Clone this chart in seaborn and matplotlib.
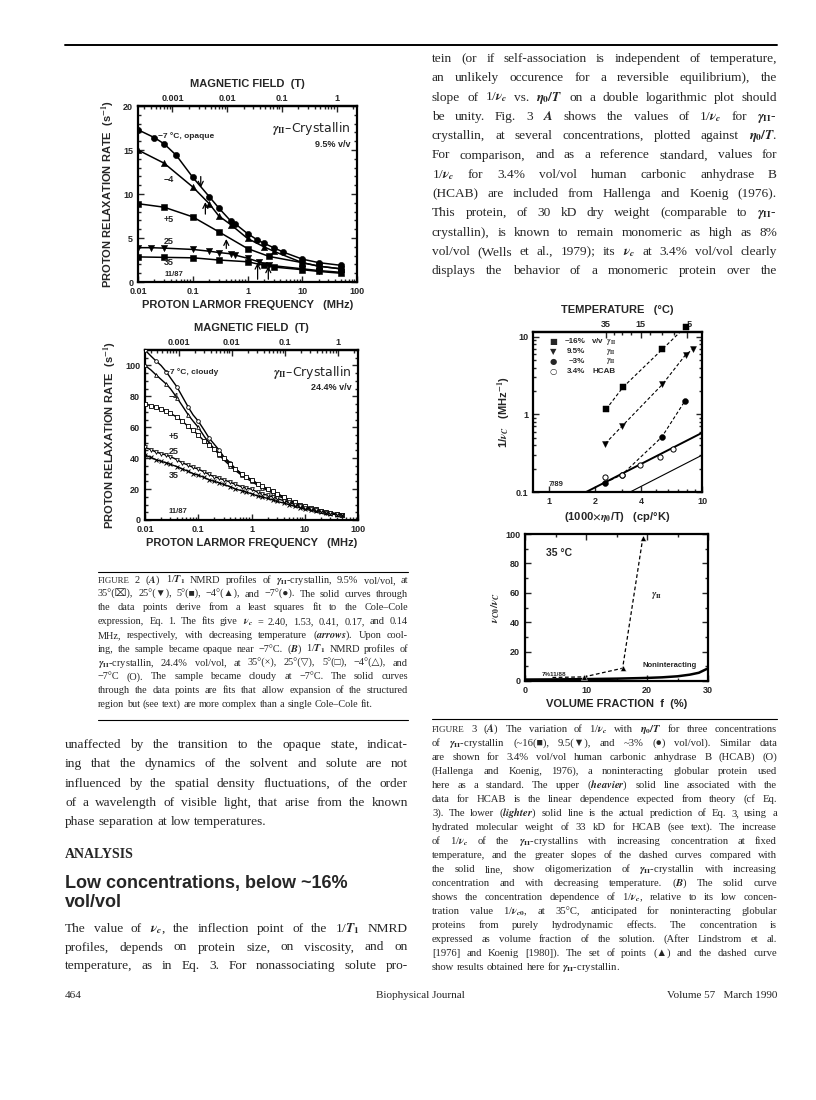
import numpy as np
import matplotlib
matplotlib.use("Agg")
import matplotlib.pyplot as plt
import matplotlib.ticker as mticker
import seaborn as sns

W, H = 816, 1100

# ---------------- data: Fig 2A (9.5% v/v), MHz vs s^-1 ----------------
a_m7_f = [0.01, 0.02, 0.03, 0.05, 0.1, 0.2, 0.3, 0.5, 0.6, 1.0, 1.5, 2.0, 3.0, 4.5, 10, 20, 50]
a_m7_r = [17.3, 16.4, 15.7, 14.4, 11.9, 9.7, 8.4, 6.9, 6.6, 5.5, 4.8, 4.4, 3.9, 3.4, 2.6, 2.2, 1.9]
a_m4_f = [0.01, 0.03, 0.1, 0.2, 0.3, 0.5, 1.0, 2.0, 3.0, 10, 20, 50]
a_m4_r = [15.0, 13.5, 10.8, 8.9, 7.5, 6.5, 4.95, 4.0, 3.5, 2.2, 1.8, 1.5]
a_p5_f = [0.01, 0.03, 0.1, 0.3, 1.0, 2.5, 10, 20, 50]
a_p5_r = [8.9, 8.5, 7.4, 5.7, 3.8, 2.9, 2.2, 1.8, 1.5]
a_25_f = [0.01, 0.017, 0.03, 0.1, 0.2, 0.3, 0.5, 0.6, 1.0, 1.6, 2.5, 10, 20, 50]
a_25_r = [3.9, 3.9, 3.85, 3.7, 3.5, 3.35, 3.2, 3.05, 2.7, 2.3, 1.9, 1.5, 1.3, 1.1]
a_35_f = [0.01, 0.03, 0.1, 0.3, 1.0, 2.0, 3.0, 10, 20, 50]
a_35_r = [2.85, 2.8, 2.75, 2.5, 2.3, 1.9, 1.7, 1.4, 1.2, 1.0]
# inflection points (nu_c, MHz) with arrow tail / head heights
arrow_f = [0.14, 0.17, 0.41, 1.53, 2.40]
arrow_tail = [12.3, 7.4, 3.5, 0.0, 0.0]
arrow_head = [10.4, 9.4, 5.2, 2.5, 2.1]

# ---------------- data: Fig 2B (24.4% v/v) ----------------
b_f = [0.01, 0.013, 0.016, 0.02, 0.025, 0.03, 0.04, 0.05, 0.065, 0.08, 0.1, 0.13, 0.16,
       0.2, 0.25, 0.3, 0.4, 0.5, 0.65, 0.8, 1.0, 1.3, 1.6, 2.0, 2.5, 3.0, 4.0, 5.0,
       6.5, 8.0, 10, 13, 16, 20, 25, 30, 40, 50]
b_m7 = [110, 106, 103, 100, 96, 92, 86, 80, 73, 68, 64, 58, 53, 49, 45, 41, 37, 33, 30, 28,
        26, 23.5, 21.5, 20, 18.5, 17, 15, 13, 11.5, 10, 9, 7.8, 7, 6, 5.3, 4.8, 4, 3.5]
b_m4 = [100, 97, 94, 91, 88, 85, 79, 74, 68, 64, 60, 54, 50, 46, 42, 39, 35, 32, 29, 27,
        25, 22.5, 21, 19, 17.5, 16, 14, 12.5, 11, 9.6, 8.5, 7.3, 6.4, 5.5, 4.9, 4.4, 3.8, 3.3]
b_p5 = [75, 74, 73, 72, 70.5, 69, 66.5, 64, 60.5, 58, 55, 51, 48.5, 46, 43, 40, 36, 33, 30, 28,
        26, 23.5, 22, 20, 18.5, 17, 15, 13, 11.5, 10, 9, 7.8, 7, 6, 5.2, 4.7, 4, 3.5]
b_25 = [47, 45.5, 44, 43, 42, 41, 39, 37, 35.5, 34, 33, 31, 29.5, 28, 27, 26, 24.5, 23, 21.5, 20.5,
        20, 18, 17, 16, 15, 14, 12.5, 11.5, 10, 9, 8, 7, 6.3, 5.5, 4.8, 4.3, 3.7, 3.2]
b_35 = [42, 40.5, 39, 38, 37, 36, 34.5, 33, 31.5, 30, 29, 27.5, 26, 25, 24, 23, 21.5, 20, 19, 18,
        17, 15.5, 14.8, 14, 13, 12, 11, 10, 8.8, 8, 7, 6.3, 5.6, 5, 4.4, 4, 3.4, 3]

# ---------------- data: Fig 3A ----------------
g16_x = [2.35, 3.03, 5.5, 7.82]
g16_y = [1.16, 2.23, 6.9, 13.5]
g95_x = [2.32, 3.0, 5.5, 7.8, 8.77]
g95_y = [0.42, 0.71, 2.43, 5.84, 6.98]
g3_x = [2.32, 3.0, 5.45, 7.75]
g3_y = [0.132, 0.168, 0.51, 1.5]
hcab_x = [2.32, 3.0, 3.94, 5.27, 6.44]
hcab_y = [0.156, 0.168, 0.221, 0.283, 0.353]
theory_x = [1.74, 10.0]
theory_hi = [0.1, 0.578]
theory_x_lo = [3.38, 10.0]
theory_lo = [0.1, 0.298]
temp_major_x = [2.34, 3.96, 8.0]
temp_major_lab = ["35", "15", "−5"]
temp_minor_x = [2.63, 2.98, 3.4, 4.56, 5.43, 6.54]

# ---------------- data: Fig 3B ----------------
tri_f = [9.7, 16.0, 19.3]
tri_v = [2.8, 8.7, 97.0]
dash_f = [4.5, 9.7, 16.0, 19.3]
dash_v = [2.4, 2.8, 8.7, 97.0]
nonint_f = [0, 5, 10, 15, 20, 22.5, 25, 27, 28.5, 30]
nonint_v = [1.0, 1.1, 1.3, 1.6, 2.1, 2.5, 3.2, 4.3, 5.6, 8.6]

# ---------------- text ----------------
GII = r"$\gamma_{\mathrm{II}}$"
right_top = [
    "tein (or if self-association is independent of temperature,",
    "an unlikely occurence for a reversible equilibrium), the",
    r"slope of 1/$\nu_c$ vs. $\eta_0/T$ on a double logarithmic plot should",
    r"be unity. Fig. 3 $A$ shows the values of 1/$\nu_c$ for " + GII + "-",
    r"crystallin, at several concentrations, plotted against $\eta_0/T$.",
    "For comparison, and as a reference standard, values for",
    r"1/$\nu_c$ for 3.4% vol/vol human carbonic anhydrase B",
    "(HCAB) are included from Hallenga and Koenig (1976).",
    "This protein, of 30 kD dry weight (comparable to " + GII + "-",
    "crystallin), is known to remain monomeric as high as 8%",
    r"vol/vol (Wells et al., 1979); its $\nu_c$ at 3.4% vol/vol clearly",
    "displays the behavior of a monomeric protein over the",
]
left_body = [
    "unaffected by the transition to the opaque state, indicat-",
    "ing that the dynamics of the solvent and solute are not",
    "influenced by the spatial density fluctuations, of the order",
    "of a wavelength of visible light, that arise from the known",
    "phase separation at low temperatures.",
]
left_para = [
    r"The value of $\nu_c$, the inflection point of the 1/$T_1$ NMRD",
    "profiles, depends on protein size, on viscosity, and on",
    "temperature, as in Eq. 3. For nonassociating solute pro-",
]
cap2 = [
    r"FIGURE 2 ($A$) 1/$T_1$ NMRD profiles of " + GII + "-crystallin, 9.5% vol/vol, at",
    "35°(⌧), 25°(▼), 5°(■), −4°(▲), and −7°(●). The solid curves through",
    "the data points derive from a least squares fit to the Cole–Cole",
    r"expression, Eq. 1. The fits give $\nu_c$ = 2.40, 1.53, 0.41, 0.17, and 0.14",
    r"MHz, respectively, with decreasing temperature ($\mathit{arrows}$). Upon cool-",
    r"ing, the sample became opaque near −7°C. ($B$) 1/$T_1$ NMRD profiles of",
    GII + "-crystallin, 24.4% vol/vol, at 35°(×), 25°(▽), 5°(□), −4°(△), and",
    "−7°C (O). The sample became cloudy at −7°C. The solid curves",
    "through the data points are fits that allow expansion of the structured",
    "region but (see text) are more complex than a single Cole–Cole fit.",
]
cap3 = [
    r"FIGURE 3 ($A$) The variation of 1/$\nu_c$ with $\eta_0/T$ for three concentrations",
    "of " + GII + "-crystallin (~16(■), 9.5(▼), and ~3% (●) vol/vol). Similar data",
    "are shown for 3.4% vol/vol human carbonic anhydrase B (HCAB) (O)",
    "(Hallenga and Koenig, 1976), a noninteracting globular protein used",
    r"here as a standard. The upper ($\mathit{heavier}$) solid line associated with the",
    "data for HCAB is the linear dependence expected from theory (cf Eq.",
    r"3). The lower ($\mathit{lighter}$) solid line is the actual prediction of Eq. 3, using a",
    "hydrated molecular weight of 33 kD for HCAB (see text). The increase",
    r"of 1/$\nu_c$ of the " + GII + "-crystallins with increasing concentration at fixed",
    "temperature, and the greater slopes of the dashed curves compared with",
    "the solid line, show oligomerization of " + GII + "-crystallin with increasing",
    r"concentration and with decreasing temperature. ($B$) The solid curve",
    r"shows the concentration dependence of 1/$\nu_c$, relative to its low concen-",
    r"tration value 1/$\nu_{c0}$, at 35°C, anticipated for noninteracting globular",
    "proteins from purely hydrodynamic effects. The concentration is",
    "expressed as volume fraction of the solution. (After Lindstrom et al.",
    "[1976] and Koenig [1980]). The set of points (▲) and the dashed curve",
    "show results obtained here for " + GII + "-crystallin.",
]

# ---------------- style ----------------
sns.set_theme(style="ticks")
plt.rcParams.update({
    "font.family": ["Liberation Sans", "DejaVu Sans"],
    "font.weight": "bold",
    "mathtext.fontset": "stix",
    "axes.linewidth": 1.6,
    "axes.edgecolor": "black",
    "xtick.direction": "in",
    "ytick.direction": "in",
    "xtick.major.size": 4,
    "ytick.major.size": 4,
    "xtick.minor.size": 2.2,
    "ytick.minor.size": 2.2,
    "xtick.major.width": 1.0,
    "ytick.major.width": 1.0,
    "xtick.labelsize": 6.5,
    "ytick.labelsize": 6.5,
    "axes.labelsize": 8,
    "axes.labelweight": "bold",
})
SERIF = ["Liberation Serif", "DejaVu Sans"]

fig = plt.figure(figsize=(W / 100, H / 100), dpi=100)
fig.patch.set_facecolor("white")


def box(x0, y0, x1, y1):
    return fig.add_axes([x0 / W, 1 - y1 / H, (x1 - x0) / W, (y1 - y0) / H])


def put(x, y, s, **kw):
    return fig.text(x / W, 1 - y / H, s, **kw)


def rule(x0, x1, y, lw=0.8):
    fig.add_artist(plt.Line2D([x0 / W, x1 / W], [1 - y / H, 1 - y / H], color="black", lw=lw))


renderer = fig.canvas.get_renderer()


def block(lines, x0, x1, y0, pitch, size, ragged_last=True):
    # justified column text, one word at a time
    t1 = put(0, 0, "aa", size=size, family=SERIF, weight="normal")
    t2 = put(0, 0, "a a", size=size, family=SERIF, weight="normal")
    sp = t2.get_window_extent(renderer).width - t1.get_window_extent(renderer).width
    t1.remove()
    t2.remove()
    for i, line in enumerate(lines):
        y = y0 + i * pitch
        words = line.split(" ")
        ts = []
        for w in words:
            sz = size * 0.86 if w.startswith("FIGURE") else size
            ts.append(put(x0, y, w, size=sz, family=SERIF, weight="normal", va="baseline"))
        ws = [t.get_window_extent(renderer).width for t in ts]
        if (ragged_last and i == len(lines) - 1) or len(words) == 1:
            gap = sp
        else:
            gap = (x1 - x0 - sum(ws)) / (len(words) - 1)
        x = x0
        for t, w in zip(ts, ws):
            t.set_x(x / W)
            x += w + gap


def frame(ax):
    for s in ax.spines.values():
        s.set_visible(True)
        s.set_linewidth(1.6)
    ax.tick_params(which="both", top=False, right=True, direction="in", labelsize=6.5)
    for lab in ax.get_xticklabels() + ax.get_yticklabels():
        lab.set_fontweight("bold")


MHZ_PER_T = 42.58


def field_axis(ax):
    sec = ax.secondary_xaxis("top", functions=(lambda f: f / MHZ_PER_T, lambda b: b * MHZ_PER_T))
    sec.set_xticks([0.001, 0.01, 0.1, 1])
    sec.set_xticklabels(["0.001", "0.01", "0.1", "1"], fontsize=6.5, fontweight="bold")
    sec.xaxis.set_minor_locator(mticker.LogLocator(base=10, subs=np.arange(2, 10)))
    sec.xaxis.set_minor_formatter(mticker.NullFormatter())
    sec.tick_params(which="both", direction="in", pad=2)
    sec.set_xlabel("MAGNETIC FIELD  (T)", fontsize=8, fontweight="bold", labelpad=5)


def log_freq_axis(ax):
    ax.set_xscale("log")
    ax.set_xlim(0.01, 100)
    ax.set_xticks([0.01, 0.1, 1, 10, 100])
    ax.set_xticklabels(["0.01", "0.1", "1", "10", "100"])
    ax.xaxis.set_minor_locator(mticker.LogLocator(base=10, subs=np.arange(2, 10)))
    ax.xaxis.set_minor_formatter(mticker.NullFormatter())
    ax.set_xlabel("PROTON LARMOR FREQUENCY   (MHz)", labelpad=3)
    ax.set_ylabel(r"PROTON RELAXATION RATE  (s$^{-1}$)", labelpad=4)


def curve(ax, x, y, marker, filled=True, ms=18, lw=1.1, every=1):
    sns.lineplot(x=x, y=y, ax=ax, color="black", lw=lw, sort=False, estimator=None)
    xs, ys = x[::every], y[::every]
    if filled:
        sns.scatterplot(x=xs, y=ys, ax=ax, marker=marker, s=ms, color="black",
                        edgecolor="black", linewidth=0.4, zorder=3)
    else:
        sns.scatterplot(x=xs, y=ys, ax=ax, marker=marker, s=ms, facecolor="white",
                        edgecolor="black", linewidth=0.6, zorder=3)


def crystallin_tag(ax, conc):
    ax.text(0.97, 0.87, GII + "–Crystallin", transform=ax.transAxes, ha="right",
            va="center", fontsize=9, fontweight="normal", family="DejaVu Sans")
    ax.text(0.97, 0.78, conc, transform=ax.transAxes, ha="right", va="center",
            fontsize=6.5, fontweight="bold")


# ================= FIGURE 2A =================
ax = box(138, 106, 357, 282)
ax.set_xscale("log")
curve(ax, a_m7_f, a_m7_r, "o", ms=20)
curve(ax, a_m4_f, a_m4_r, "^", ms=20)
curve(ax, a_p5_f, a_p5_r, "s", ms=18)
curve(ax, a_25_f, a_25_r, "v", ms=20)
curve(ax, a_35_f, a_35_r, "s", ms=16)
for f, t, h in zip(arrow_f, arrow_tail, arrow_head):
    ax.annotate("", xy=(f, h), xytext=(f, t),
                arrowprops=dict(arrowstyle="->", color="black", lw=0.9, mutation_scale=9))
log_freq_axis(ax)
ax.set_ylim(0, 20)
ax.set_yticks([0, 5, 10, 15, 20])
ax.yaxis.set_minor_locator(mticker.MultipleLocator(1))
frame(ax)
field_axis(ax)
ax.text(0.023, 16.6, "−7 °C, opaque", fontsize=6, fontweight="bold", va="center")
ax.text(0.03, 11.7, "−4", fontsize=6.5, fontweight="bold", va="center")
ax.text(0.03, 7.1, "+5", fontsize=6.5, fontweight="bold", va="center")
ax.text(0.03, 4.6, "25", fontsize=6.5, fontweight="bold", va="center")
ax.text(0.03, 2.2, "35", fontsize=6.5, fontweight="bold", va="center")
ax.text(0.03, 0.8, "11/87", fontsize=5.5, fontweight="bold", va="center")
crystallin_tag(ax, "9.5% v/v")

# ================= FIGURE 2B =================
ax = box(145, 350, 358, 520)
ax.set_xscale("log")
curve(ax, b_f, b_m7, "o", filled=False, ms=7, lw=1.0, every=2)
curve(ax, b_f, b_m4, "^", filled=False, ms=7, lw=1.0, every=2)
curve(ax, b_f, b_p5, "s", filled=False, ms=9, lw=1.0)
curve(ax, b_f, b_25, "v", filled=False, ms=7, lw=1.0)
sns.lineplot(x=b_f, y=b_35, ax=ax, color="black", lw=1.0, sort=False, estimator=None)
sns.scatterplot(x=b_f, y=b_35, ax=ax, marker="x", s=8, color="black", linewidth=0.7, zorder=3)
log_freq_axis(ax)
ax.set_ylim(0, 110)
ax.set_yticks([0, 20, 40, 60, 80, 100])
ax.yaxis.set_minor_locator(mticker.MultipleLocator(5))
frame(ax)
field_axis(ax)
ax.text(0.024, 96, "−7 °C, cloudy", fontsize=6, fontweight="bold", va="center")
ax.text(0.028, 80, "−4", fontsize=6.5, fontweight="bold", va="center")
ax.text(0.028, 54, "+5", fontsize=6.5, fontweight="bold", va="center")
ax.text(0.028, 44, "25", fontsize=6.5, fontweight="bold", va="center")
ax.text(0.028, 29, "35", fontsize=6.5, fontweight="bold", va="center")
ax.text(0.028, 5.5, "11/87", fontsize=5.5, fontweight="bold", va="center")
crystallin_tag(ax, "24.4% v/v")

# ================= FIGURE 3A =================
ax = box(533, 332, 702, 492)
ax.set_xscale("log")
ax.set_yscale("log")
sns.lineplot(x=theory_x, y=theory_hi, ax=ax, color="black", lw=1.4)
sns.lineplot(x=theory_x_lo, y=theory_lo, ax=ax, color="black", lw=0.8)
for xs, ys, mk in [(g16_x, g16_y, "s"), (g95_x, g95_y, "v"), (g3_x, g3_y, "o")]:
    sns.lineplot(x=xs, y=ys, ax=ax, color="black", lw=0.8, linestyle=(0, (3, 2)),
                 sort=False, estimator=None)
    sns.scatterplot(x=xs, y=ys, ax=ax, marker=mk, s=18, color="black", edgecolor="black",
                    zorder=3, clip_on=False)
sns.scatterplot(x=hcab_x, y=hcab_y, ax=ax, marker="o", s=14, facecolor="white",
                edgecolor="black", linewidth=0.7, zorder=3)
ax.set_xlim(0.78, 10)
ax.set_ylim(0.1, 11.5)
ax.set_xticks([1, 2, 4, 10])
ax.set_xticklabels(["1", "2", "4", "10"])
ax.xaxis.set_minor_locator(mticker.FixedLocator([3, 5, 6, 7, 8, 9]))
ax.xaxis.set_minor_formatter(mticker.NullFormatter())
ax.set_yticks([0.1, 1, 10])
ax.set_yticklabels(["0.1", "1", "10"])
ax.yaxis.set_minor_locator(mticker.LogLocator(base=10, subs=np.arange(2, 10)))
ax.yaxis.set_minor_formatter(mticker.NullFormatter())
frame(ax)
ax.set_xlabel(r"(1000$\times\eta_0$/T)   (cp/°K)", labelpad=3)
ax.set_ylabel(r"1/$\nu_C$   (MHz$^{-1}$)", labelpad=2)
sec = ax.secondary_xaxis("top")
sec.set_xticks(temp_major_x)
sec.set_xticklabels(temp_major_lab, fontsize=6.5, fontweight="bold")
sec.set_xticks(temp_minor_x, minor=True)
sec.xaxis.set_minor_formatter(mticker.NullFormatter())
sec.tick_params(which="both", direction="in", pad=2)
sec.set_xlabel("TEMPERATURE   (°C)", fontsize=8, fontweight="bold", labelpad=5)
legend_rows = [("■", "~16%", "v/v  " + GII),
               ("▼", "9.5%", GII),
               ("●", "~3%", GII),
               ("○", "3.4%", "HCAB")]
for i, (sym, pct, who) in enumerate(legend_rows):
    yy = 0.94 - i * 0.062
    ax.text(0.12, yy, sym, transform=ax.transAxes, fontsize=6, va="center", ha="center",
            family="DejaVu Sans")
    ax.text(0.31, yy, pct, transform=ax.transAxes, fontsize=5.8, va="center", ha="right")
    ax.text(0.49, yy, who, transform=ax.transAxes, fontsize=5.8, va="center", ha="right")
ax.text(1.1, 0.125, "7/89", fontsize=5.5, fontweight="bold", va="center", ha="center")

# ================= FIGURE 3B =================
ax = box(525, 534, 708, 681)
sns.lineplot(x=nonint_f, y=nonint_v, ax=ax, color="black", lw=1.8, sort=False, estimator=None)
sns.lineplot(x=dash_f, y=dash_v, ax=ax, color="black", lw=0.9, linestyle=(0, (3, 2)),
             sort=False, estimator=None)
sns.scatterplot(x=tri_f, y=tri_v, ax=ax, marker="^", s=18, color="black", zorder=3)
ax.set_xlim(0, 30)
ax.set_ylim(0, 100)
ax.set_xticks([0, 10, 20, 30])
ax.set_yticks([0, 20, 40, 60, 80, 100])
ax.xaxis.set_minor_locator(mticker.MultipleLocator(5))
ax.yaxis.set_minor_locator(mticker.MultipleLocator(10))
frame(ax)
ax.tick_params(which="both", top=True)
ax.set_xlabel("VOLUME FRACTION  f  (%)", labelpad=3)
ax.set_ylabel(r"$\nu_{C0}/\nu_C$", labelpad=2)
ax.text(3.5, 87, "35 °C", fontsize=7.5, fontweight="bold", va="center")
ax.text(20.6, 58, GII, fontsize=7, va="center")
ax.text(19.2, 10.5, "Noninteracting", fontsize=5.5, fontweight="bold", va="center")
ax.text(2.8, 4.6, "7%11/88", fontsize=4.5, fontweight="bold", va="center")

# ================= page text =================
rule(65, 777, 45, lw=1.4)
block(right_top, 432, 777, 62, 19.3, 9.6, ragged_last=False)

rule(98, 408, 572)
block(cap2, 98, 408, 583, 13.75, 7.4)
rule(98, 408, 720)

block(left_body, 65, 408, 748, 19.3, 9.6)
put(65, 858, "ANALYSIS", family=SERIF, weight="bold", size=10)
put(65, 888, "Low concentrations, below ~16%", weight="bold", size=13)
put(65, 907, "vol/vol", weight="bold", size=13)
block(left_para, 65, 408, 932, 18.5, 9.6, ragged_last=False)

rule(432, 777, 719)
block(cap3, 432, 777, 732, 14.0, 7.7)

put(65, 998, "464", family=SERIF, size=8, weight="normal")
put(420, 998, "Biophysical Journal", family=SERIF, size=8, weight="normal", ha="center")
put(777, 998, "Volume 57   March 1990", family=SERIF, size=8, weight="normal", ha="right")

fig.savefig("out.png", dpi=100, facecolor="white")
